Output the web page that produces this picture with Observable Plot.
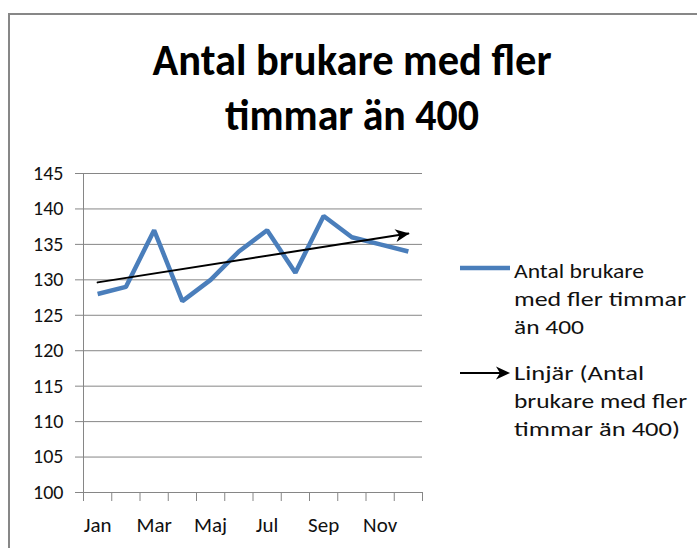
<!DOCTYPE html>
<html><head><meta charset="utf-8">
<script src="https://cdn.jsdelivr.net/npm/d3@7"></script>
<script src="https://cdn.jsdelivr.net/npm/@observablehq/plot@0.6"></script>
<style>
html,body{margin:0;padding:0;background:#fff;}
#wrap{position:relative;width:697px;height:548px;overflow:hidden;}
#frame{position:absolute;left:8px;top:13px;width:800px;height:600px;border:2px solid #878787;box-sizing:border-box;}
#chart,#overlay{position:absolute;left:0;top:0;}
</style>
</head><body>
<div id="wrap"><div id="frame"></div><div id="chart"></div><svg id="overlay" width="697" height="548"></svg></div>
<script>
const FONT = "Carlito, Calibri, 'Liberation Sans Narrow', 'Open Sans', sans-serif";

// ---- data ----
const months = ["Jan","Feb","Mar","Apr","Maj","Jun","Jul","Aug","Sep","Okt","Nov","Dec"];
const values = [128,129,137,127,130,134,137,131,139,136,135,134];
const yTicks = [100,105,110,115,120,125,130,135,140,145];
const xLabelMonths = ["Jan","Mar","Maj","Jul","Sep","Nov"];
const titleLines = ["Antal brukare med fler","timmar än 400"];
const seriesLegend = ["Antal brukare","med fler timmar","än 400"];
const trendLegend = ["Linjär (Antal","brukare med fler","timmar än 400)"];

const data = months.map((m, i) => ({i, m, v: values[i]}));

// linear regression (trend line)
const n = data.length;
const mx = d3.mean(data, d => d.i), my = d3.mean(data, d => d.v);
const slope = d3.sum(data, d => (d.i - mx) * (d.v - my)) / d3.sum(data, d => (d.i - mx) ** 2);
const icpt = my - slope * mx;
const trend = [0, n - 1].map(i => ({i, v: icpt + slope * i}));

const boundaries = d3.range(n + 1).map(k => k - 0.5);
const labelIdx = xLabelMonths.map(m => months.indexOf(m));

// filled arrowhead marker (Excel style)
const arrowHead = (color, context) => {
  const m = d3.create("svg:marker")
    .attr("viewBox", "-14 -7 15 14").attr("markerWidth", 15).attr("markerHeight", 14)
    .attr("markerUnits", "userSpaceOnUse").attr("refX", 0).attr("refY", 0).attr("orient", "auto");
  m.append("path").attr("d", "M1,0 L-13,-6.5 L-9,0 L-13,6.5 Z").attr("fill", "#000").attr("stroke", "none");
  return m.node();
};

const chart = Plot.plot({
  width: 697, height: 548,
  marginLeft: 83, marginRight: 275, marginTop: 173, marginBottom: 56,
  x: {type: "linear", domain: [-0.5, n - 0.5]},
  y: {domain: [100, 145]},
  style: {fontFamily: FONT, fontSize: "20px", color: "#000", background: "transparent", overflow: "visible"},
  marks: [
    Plot.gridY(yTicks, {stroke: "#868686", strokeOpacity: 1}),
    Plot.axisY({ticks: yTicks, tickSize: 8, tickPadding: 12, stroke: "#868686", fill: "#111", label: null}),
    Plot.ruleX([-0.5], {stroke: "#868686"}),
    Plot.axisX({ticks: boundaries, tickSize: 9, tickFormat: () => "", stroke: "#868686", label: null}),
    Plot.axisX({ticks: labelIdx, tickSize: 0, tickPadding: 25, tickFormat: i => months[i], fill: "#111", fontSize: 21, label: null}),
    Plot.line(data, {x: "i", y: "v", stroke: "#4a7ebb", strokeWidth: 4.5, strokeLinejoin: "miter", strokeLinecap: "butt"}),
    Plot.line(trend, {x: "i", y: "v", stroke: "#000", strokeWidth: 2, markerEnd: arrowHead})
  ]
});
document.getElementById("chart").appendChild(chart);

// ---- title & legend overlay ----
const ov = d3.select("#overlay").style("font-family", FONT);
const titleBase = [75, 130];
const titleWidth = [399, 254];
ov.selectAll("text.title").data(titleLines).join("text")
  .attr("class", "title")
  .attr("x", 352).attr("y", (d, k) => titleBase[k])
  .attr("text-anchor", "middle")
  .attr("font-size", 45).attr("font-weight", "bold").attr("fill", "#000")
  .attr("textLength", (d, k) => titleWidth[k]).attr("lengthAdjust", "spacingAndGlyphs")
  .text(d => d);

const seriesW = [130, 172, 70];
const trendW = [130, 173, 166];
const lg = ov.append("g").attr("font-size", 20).attr("fill", "#111");
lg.append("line").attr("x1", 460).attr("x2", 510).attr("y1", 268).attr("y2", 268)
  .attr("stroke", "#4a7ebb").attr("stroke-width", 4.5);
lg.selectAll("text.s").data(seriesLegend).join("text").attr("class", "s")
  .attr("x", 514).attr("y", (d, k) => 278 + k * 28)
  .attr("textLength", (d, k) => seriesW[k]).attr("lengthAdjust", "spacingAndGlyphs")
  .text(d => d);

lg.append("line").attr("x1", 460).attr("x2", 505).attr("y1", 373).attr("y2", 373)
  .attr("stroke", "#000").attr("stroke-width", 2);
lg.append("path").attr("d", "M 510 373 L 496 366.5 L 500 373 L 496 379.5 Z").attr("fill", "#000");
lg.selectAll("text.t").data(trendLegend).join("text").attr("class", "t")
  .attr("x", 514).attr("y", (d, k) => 380 + k * 28)
  .attr("textLength", (d, k) => trendW[k]).attr("lengthAdjust", "spacingAndGlyphs")
  .text(d => d);
</script>
</body></html>
